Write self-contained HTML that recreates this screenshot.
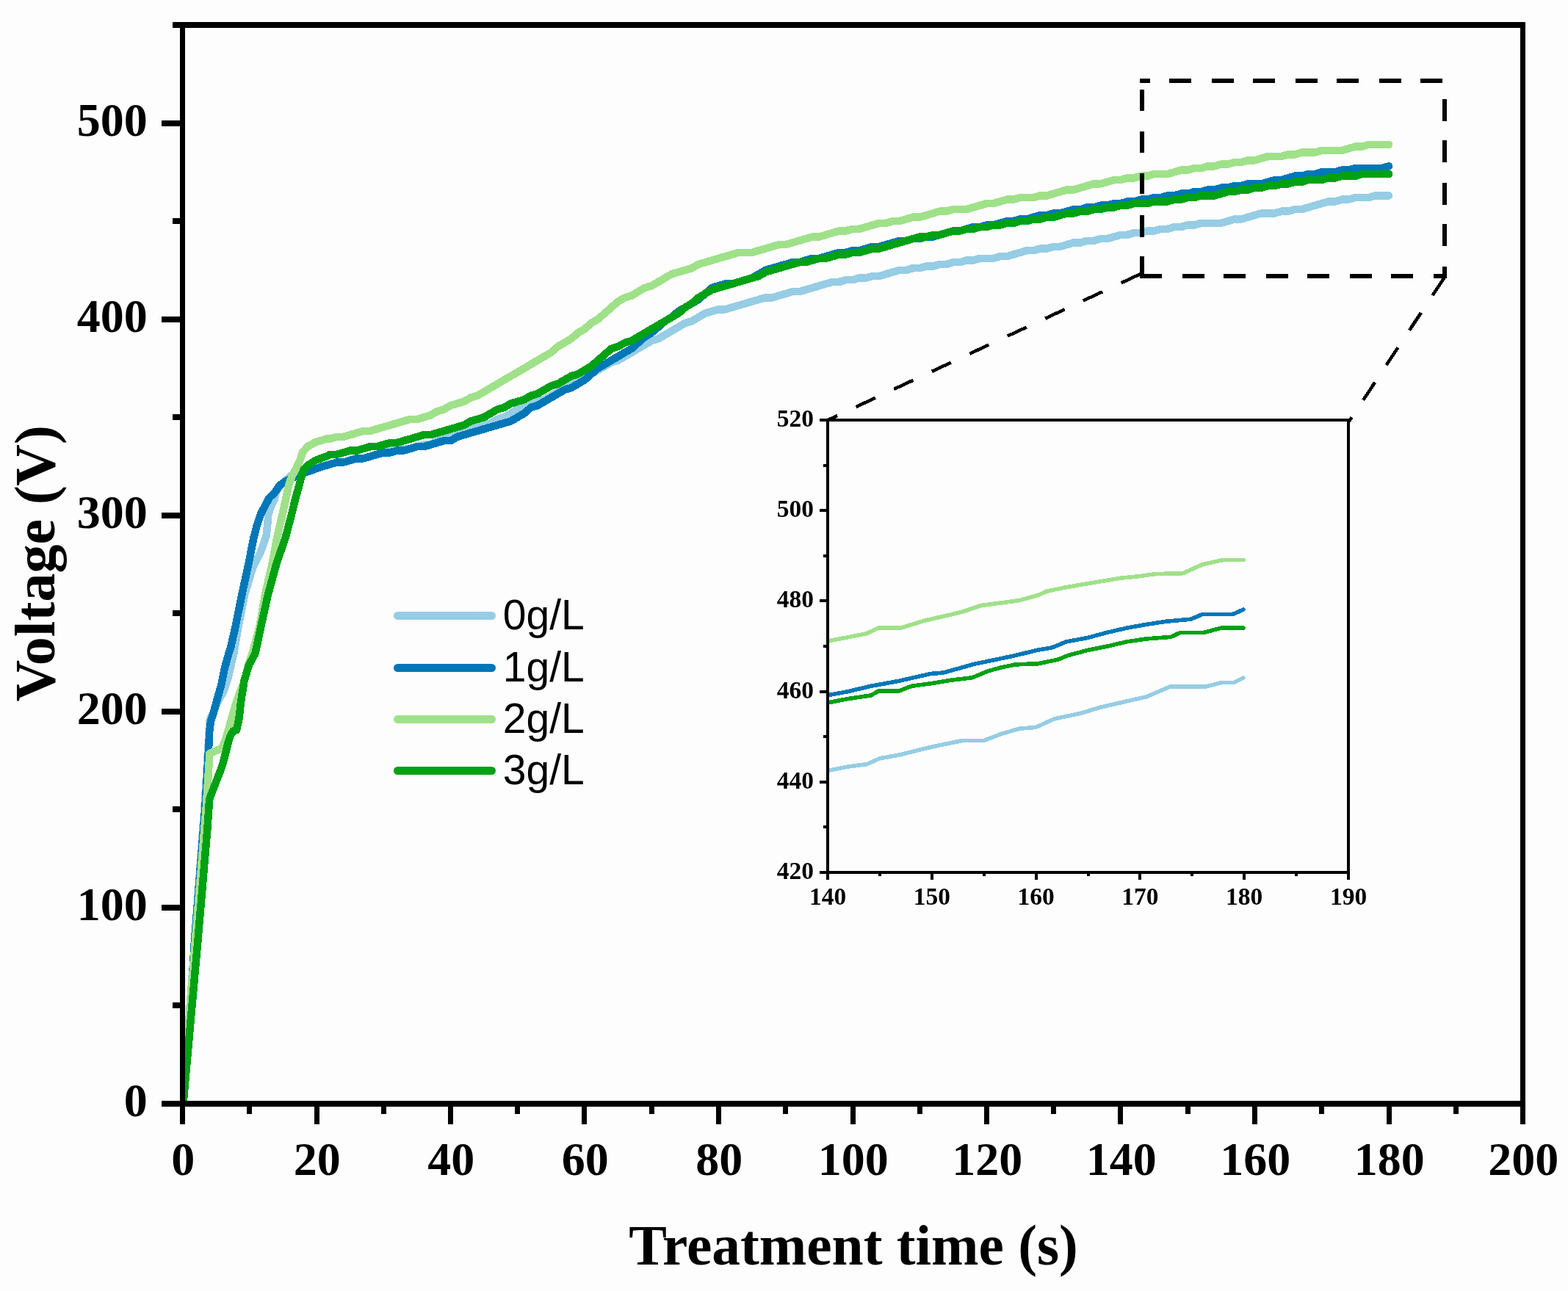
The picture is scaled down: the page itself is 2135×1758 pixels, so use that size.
<!DOCTYPE html><html><head><meta charset="utf-8"><title>Voltage vs Treatment time</title>
<style>html,body{margin:0;padding:0;background:#fdfdfd;}svg{display:block;}text{font-family:"Liberation Serif","Times New Roman",serif;font-weight:bold;fill:#000;}.lg{font-family:"Liberation Sans",Arial,sans-serif;font-weight:normal;}</style></head><body>
<svg width="2135" height="1758" viewBox="0 0 2135 1758">
<rect x="0" y="0" width="2135" height="1758" fill="#fdfdfd"/>
<defs><clipPath id="cm"><rect x="248.5" y="34" width="1825" height="1469"/></clipPath><clipPath id="ci"><rect x="1127" y="572" width="709" height="616"/></clipPath></defs>
<g fill="none" stroke-width="10.5" stroke-linejoin="round" stroke-linecap="round" shape-rendering="crispEdges" clip-path="url(#cm)">
<polyline stroke="#96cde4" points="249.0,1503.0 265.3,1280.0 278.4,1100.0 285.8,980.0 298.1,952.6 304.3,942.2 311.0,921.5 315.7,900.7 318.4,890.0 324.5,853.2 333.2,809.5 344.1,773.2 355.0,751.3 362.7,729.4 364.5,711.0 365.4,700.6 368.9,689.1 373.5,680.5 376.0,670.0 382.0,661.0 388.0,655.0 396.0,648.0 408.0,645.0 422.4,641.0 437.3,635.5 449.2,632.3 458.4,629.6 467.5,629.6 476.6,626.9 485.8,624.3 494.9,624.3 504.0,621.6 513.1,618.9 522.2,616.3 531.4,613.6 540.5,613.6 549.6,610.9 558.8,610.9 567.9,608.2 577.0,605.6 586.1,605.6 595.2,600.2 604.4,597.6 613.5,594.9 622.6,589.5 631.8,586.9 640.9,584.2 650.0,581.5 659.1,578.9 668.2,576.2 677.4,570.9 686.5,568.2 695.6,562.8 704.8,557.5 713.9,554.8 723.0,549.5 732.1,546.8 741.2,544.1 750.4,538.8 759.5,533.5 768.6,528.1 777.8,522.8 786.9,517.4 796.0,512.1 805.1,509.4 814.2,504.1 823.4,498.7 832.5,493.4 841.6,490.7 850.8,485.4 859.9,480.0 869.0,474.7 878.1,469.4 887.2,464.0 896.4,461.3 905.5,456.0 914.6,450.7 923.8,445.3 932.9,440.0 942.0,437.3 951.1,432.0 960.2,426.6 969.4,424.0 978.5,421.3 987.6,421.3 996.8,418.6 1005.9,415.9 1015.0,413.3 1024.1,410.6 1033.2,407.9 1042.4,405.3 1051.5,405.3 1060.6,402.6 1069.8,399.9 1078.9,397.2 1088.0,397.2 1097.1,394.6 1106.2,391.9 1115.4,389.2 1124.5,386.6 1133.6,383.9 1142.8,383.9 1151.9,381.2 1161.0,381.2 1170.1,378.5 1179.2,378.5 1188.4,375.9 1197.5,375.9 1206.6,373.2 1215.8,370.5 1224.9,367.9 1234.0,367.9 1243.1,365.2 1252.2,365.2 1261.4,362.5 1270.5,362.5 1279.6,359.9 1288.8,359.9 1297.9,357.2 1307.0,357.2 1316.1,354.5 1325.2,354.5 1334.4,351.8 1343.5,351.8 1352.6,351.8 1361.8,349.2 1370.9,349.2 1380.0,346.5 1389.1,343.8 1398.2,341.2 1407.4,341.2 1416.5,338.5 1425.6,338.5 1434.8,335.8 1443.9,335.8 1453.0,333.1 1462.1,330.5 1471.2,330.5 1480.4,327.8 1489.5,327.8 1498.6,325.1 1507.8,325.1 1516.9,322.5 1526.0,319.8 1535.1,319.8 1544.2,317.1 1553.4,317.1 1562.5,314.4 1571.6,314.4 1580.8,311.8 1589.9,311.8 1599.0,309.1 1608.1,309.1 1617.2,306.4 1626.4,306.4 1635.5,303.8 1644.6,303.8 1653.8,303.8 1662.9,303.8 1672.0,301.1 1681.1,298.4 1690.2,298.4 1699.4,295.7 1708.5,293.1 1717.6,290.4 1726.8,290.4 1735.9,290.4 1745.0,287.7 1754.1,287.7 1763.2,285.1 1772.4,285.1 1781.5,282.4 1790.6,279.7 1799.8,277.1 1808.9,274.4 1818.0,274.4 1827.1,271.7 1836.2,271.7 1845.4,269.0 1854.5,269.0 1863.6,269.0 1872.8,266.4 1881.9,266.4 1891.0,266.4"/>
<polyline stroke="#0277b8" points="249.0,1503.0 258.8,1386.0 265.0,1280.0 279.3,1100.0 283.9,1023.0 285.3,995.0 287.2,981.5 290.0,973.4 295.5,953.0 301.5,931.9 305.6,911.0 309.8,895.6 314.5,880.0 320.6,853.2 329.4,809.5 338.9,765.7 345.3,732.8 350.0,715.0 354.8,700.6 360.6,689.1 366.9,677.6 373.8,671.0 381.3,660.3 388.0,656.0 395.0,652.5 408.0,646.0 422.4,641.3 437.3,635.7 449.2,632.3 458.4,629.6 467.5,629.6 476.6,626.9 485.8,624.3 494.9,624.3 504.0,621.6 513.1,618.9 522.2,616.3 531.4,616.3 540.5,613.6 549.6,613.6 558.8,610.9 567.9,608.2 577.0,608.2 586.1,605.6 595.2,602.9 604.4,600.2 613.5,600.2 622.6,594.9 631.8,592.2 640.9,589.5 650.0,586.9 659.1,584.2 668.2,581.5 677.4,578.9 686.5,576.2 695.6,573.5 704.8,568.2 713.9,562.8 723.0,554.8 732.1,552.2 741.2,546.8 750.4,541.5 759.5,536.1 768.6,530.8 777.8,528.1 786.9,522.8 796.0,517.4 805.1,509.4 814.2,501.4 823.4,496.1 832.5,490.7 841.6,485.4 850.8,480.0 859.9,474.7 869.0,466.7 878.1,458.7 887.2,453.3 896.4,445.3 905.5,437.3 914.6,432.0 923.8,424.0 932.9,418.6 942.0,413.3 951.1,407.9 960.2,399.9 969.4,391.9 978.5,389.2 987.6,386.6 996.8,386.6 1005.9,383.9 1015.0,381.2 1024.1,378.5 1033.2,373.2 1042.4,367.9 1051.5,365.2 1060.6,362.5 1069.8,359.9 1078.9,357.2 1088.0,357.2 1097.1,354.5 1106.2,351.8 1115.4,351.8 1124.5,349.2 1133.6,346.5 1142.8,343.8 1151.9,343.8 1161.0,341.2 1170.1,341.2 1179.2,338.5 1188.4,335.8 1197.5,335.8 1206.6,333.1 1215.8,330.5 1224.9,327.8 1234.0,327.8 1243.1,325.1 1252.2,325.1 1261.4,322.5 1270.5,322.5 1279.6,319.8 1288.8,317.1 1297.9,314.4 1307.0,314.4 1316.1,311.8 1325.2,309.1 1334.4,309.1 1343.5,306.4 1352.6,306.4 1361.8,303.8 1370.9,301.1 1380.0,301.1 1389.1,298.4 1398.2,298.4 1407.4,295.7 1416.5,293.1 1425.6,293.1 1434.8,290.4 1443.9,290.4 1453.0,287.7 1462.1,285.1 1471.2,285.1 1480.4,282.4 1489.5,282.4 1498.6,279.7 1507.8,279.7 1516.9,277.1 1526.0,277.1 1535.1,274.4 1544.2,274.4 1553.4,271.7 1562.5,271.7 1571.6,269.0 1580.8,269.0 1589.9,266.4 1599.0,266.4 1608.1,263.7 1617.2,263.7 1626.4,261.0 1635.5,261.0 1644.6,258.4 1653.8,258.4 1662.9,255.7 1672.0,255.7 1681.1,253.0 1690.2,253.0 1699.4,250.3 1708.5,250.3 1717.6,250.3 1726.8,247.7 1735.9,245.0 1745.0,245.0 1754.1,242.3 1763.2,239.7 1772.4,239.7 1781.5,237.0 1790.6,237.0 1799.8,234.3 1808.9,234.3 1818.0,234.3 1827.1,231.6 1836.2,231.6 1845.4,229.0 1854.5,229.0 1863.6,229.0 1872.8,229.0 1881.9,229.0 1891.0,226.3"/>
<polyline stroke="#9fe189" points="249.0,1503.0 266.0,1280.0 280.7,1100.0 285.5,1026.0 295.0,1022.0 302.0,1019.0 306.0,1010.0 310.7,995.3 315.7,976.9 321.5,957.8 326.7,942.2 332.9,926.7 338.1,906.0 343.5,890.0 353.5,853.2 361.1,809.5 371.0,765.7 377.0,732.8 384.5,700.6 389.6,677.6 393.2,660.3 397.4,648.8 403.5,637.3 408.7,625.8 411.9,616.2 418.6,608.3 429.8,602.1 444.8,597.5 449.2,597.6 458.4,594.9 467.5,594.9 476.6,592.2 485.8,589.5 494.9,586.9 504.0,586.9 513.1,584.2 522.2,581.5 531.4,578.9 540.5,576.2 549.6,573.5 558.8,570.9 567.9,570.9 577.0,568.2 586.1,565.5 595.2,560.2 604.4,557.5 613.5,552.2 622.6,549.5 631.8,546.8 640.9,541.5 650.0,538.8 659.1,533.5 668.2,528.1 677.4,522.8 686.5,517.4 695.6,512.1 704.8,506.8 713.9,501.4 723.0,496.1 732.1,490.7 741.2,485.4 750.4,480.0 759.5,472.0 768.6,466.7 777.8,461.3 786.9,453.3 796.0,448.0 805.1,440.0 814.2,434.6 823.4,426.6 832.5,418.6 841.6,410.6 850.8,405.3 859.9,402.6 869.0,397.2 878.1,391.9 887.2,389.2 896.4,383.9 905.5,378.5 914.6,373.2 923.8,370.5 932.9,367.9 942.0,365.2 951.1,359.9 960.2,357.2 969.4,354.5 978.5,351.8 987.6,349.2 996.8,346.5 1005.9,343.8 1015.0,343.8 1024.1,343.8 1033.2,341.2 1042.4,338.5 1051.5,335.8 1060.6,333.1 1069.8,333.1 1078.9,330.5 1088.0,327.8 1097.1,325.1 1106.2,322.5 1115.4,322.5 1124.5,319.8 1133.6,317.1 1142.8,314.4 1151.9,314.4 1161.0,311.8 1170.1,311.8 1179.2,309.1 1188.4,306.4 1197.5,303.8 1206.6,303.8 1215.8,301.1 1224.9,301.1 1234.0,298.4 1243.1,295.7 1252.2,295.7 1261.4,293.1 1270.5,290.4 1279.6,287.7 1288.8,287.7 1297.9,285.1 1307.0,285.1 1316.1,285.1 1325.2,282.4 1334.4,279.7 1343.5,277.1 1352.6,277.1 1361.8,274.4 1370.9,271.7 1380.0,271.7 1389.1,269.0 1398.2,269.0 1407.4,269.0 1416.5,266.4 1425.6,266.4 1434.8,263.7 1443.9,261.0 1453.0,258.4 1462.1,258.4 1471.2,255.7 1480.4,253.0 1489.5,250.3 1498.6,250.3 1507.8,247.7 1516.9,245.0 1526.0,245.0 1535.1,242.3 1544.2,242.3 1553.4,239.7 1562.5,239.7 1571.6,237.0 1580.8,237.0 1589.9,237.0 1599.0,234.3 1608.1,231.6 1617.2,231.6 1626.4,229.0 1635.5,229.0 1644.6,226.3 1653.8,226.3 1662.9,223.6 1672.0,223.6 1681.1,221.0 1690.2,221.0 1699.4,218.3 1708.5,218.3 1717.6,215.6 1726.8,213.0 1735.9,213.0 1745.0,213.0 1754.1,210.3 1763.2,210.3 1772.4,207.6 1781.5,207.6 1790.6,207.6 1799.8,204.9 1808.9,204.9 1818.0,204.9 1827.1,204.9 1836.2,202.3 1845.4,199.6 1854.5,199.6 1863.6,196.9 1872.8,196.9 1881.9,196.9 1891.0,196.9"/>
<polyline stroke="#02a114" points="249.5,1503.0 269.5,1280.0 282.3,1130.0 285.2,1088.0 301.8,1045.0 305.2,1033.4 307.8,1023.0 311.2,1009.2 313.6,1002.3 317.5,995.4 322.2,994.0 325.4,978.5 328.5,952.6 332.6,926.7 338.8,906.0 347.5,890.0 355.3,853.2 365.0,809.5 377.0,765.7 388.5,732.8 396.9,701.0 402.6,677.6 406.3,664.9 410.5,649.0 413.5,639.5 419.9,633.2 429.8,626.7 444.8,621.4 449.2,618.9 458.4,618.9 467.5,616.3 476.6,613.6 485.8,613.6 494.9,610.9 504.0,608.2 513.1,608.2 522.2,605.6 531.4,602.9 540.5,602.9 549.6,600.2 558.8,597.6 567.9,594.9 577.0,592.2 586.1,592.2 595.2,589.5 604.4,586.9 613.5,584.2 622.6,581.5 631.8,578.9 640.9,573.5 650.0,570.9 659.1,568.2 668.2,562.8 677.4,557.5 686.5,554.8 695.6,549.5 704.8,546.8 713.9,544.1 723.0,538.8 732.1,536.1 741.2,530.8 750.4,525.4 759.5,522.8 768.6,517.4 777.8,512.1 786.9,509.4 796.0,504.1 805.1,498.7 814.2,490.7 823.4,482.7 832.5,474.7 841.6,472.0 850.8,466.7 859.9,464.0 869.0,458.7 878.1,453.3 887.2,448.0 896.4,442.6 905.5,437.3 914.6,432.0 923.8,426.6 932.9,418.6 942.0,413.3 951.1,405.3 960.2,399.9 969.4,394.6 978.5,391.9 987.6,389.2 996.8,386.6 1005.9,383.9 1015.0,381.2 1024.1,378.5 1033.2,375.9 1042.4,370.5 1051.5,367.9 1060.6,365.2 1069.8,362.5 1078.9,359.9 1088.0,357.2 1097.1,357.2 1106.2,354.5 1115.4,351.8 1124.5,351.8 1133.6,349.2 1142.8,346.5 1151.9,346.5 1161.0,343.8 1170.1,343.8 1179.2,341.2 1188.4,338.5 1197.5,338.5 1206.6,335.8 1215.8,333.1 1224.9,330.5 1234.0,327.8 1243.1,325.1 1252.2,322.5 1261.4,322.5 1270.5,319.8 1279.6,319.8 1288.8,317.1 1297.9,314.4 1307.0,314.4 1316.1,311.8 1325.2,311.8 1334.4,309.1 1343.5,309.1 1352.6,306.4 1361.8,306.4 1370.9,303.8 1380.0,303.8 1389.1,301.1 1398.2,301.1 1407.4,298.4 1416.5,298.4 1425.6,295.7 1434.8,295.7 1443.9,293.1 1453.0,290.4 1462.1,290.4 1471.2,287.7 1480.4,287.7 1489.5,285.1 1498.6,285.1 1507.8,282.4 1516.9,282.4 1526.0,279.7 1535.1,279.7 1544.2,277.1 1553.4,277.1 1562.5,277.1 1571.6,274.4 1580.8,274.4 1589.9,274.4 1599.0,271.7 1608.1,271.7 1617.2,269.0 1626.4,269.0 1635.5,266.4 1644.6,266.4 1653.8,266.4 1662.9,263.7 1672.0,261.0 1681.1,261.0 1690.2,258.4 1699.4,258.4 1708.5,255.7 1717.6,255.7 1726.8,253.0 1735.9,253.0 1745.0,250.3 1754.1,250.3 1763.2,247.7 1772.4,247.7 1781.5,245.0 1790.6,245.0 1799.8,245.0 1808.9,242.3 1818.0,242.3 1827.1,239.7 1836.2,239.7 1845.4,239.7 1854.5,237.0 1863.6,237.0 1872.8,237.0 1881.9,237.0 1891.0,237.0"/>
</g>
<g fill="#000" shape-rendering="crispEdges">
<rect x="245" y="30" width="7" height="1477"/>
<rect x="2070" y="30" width="7" height="1477"/>
<rect x="245" y="30" width="1832" height="8"/>
<rect x="245" y="1499" width="1832" height="8"/>
<rect x="245" y="1507" width="7" height="24"/>
<rect x="336" y="1507" width="7" height="10"/>
<rect x="428" y="1507" width="7" height="24"/>
<rect x="519" y="1507" width="7" height="10"/>
<rect x="610" y="1507" width="7" height="24"/>
<rect x="701" y="1507" width="7" height="10"/>
<rect x="792" y="1507" width="7" height="24"/>
<rect x="884" y="1507" width="7" height="10"/>
<rect x="975" y="1507" width="7" height="24"/>
<rect x="1066" y="1507" width="7" height="10"/>
<rect x="1158" y="1507" width="7" height="24"/>
<rect x="1249" y="1507" width="7" height="10"/>
<rect x="1340" y="1507" width="7" height="24"/>
<rect x="1431" y="1507" width="7" height="10"/>
<rect x="1522" y="1507" width="7" height="24"/>
<rect x="1614" y="1507" width="7" height="10"/>
<rect x="1705" y="1507" width="7" height="24"/>
<rect x="1796" y="1507" width="7" height="10"/>
<rect x="1888" y="1507" width="7" height="24"/>
<rect x="1979" y="1507" width="7" height="10"/>
<rect x="2070" y="1507" width="7" height="24"/>
<rect x="220" y="1499" width="25" height="8"/>
<rect x="235" y="1365" width="10" height="8"/>
<rect x="220" y="1232" width="25" height="8"/>
<rect x="235" y="1098" width="10" height="8"/>
<rect x="220" y="965" width="25" height="8"/>
<rect x="235" y="831" width="10" height="8"/>
<rect x="220" y="698" width="25" height="8"/>
<rect x="235" y="564" width="10" height="8"/>
<rect x="220" y="431" width="25" height="8"/>
<rect x="235" y="297" width="10" height="8"/>
<rect x="220" y="164" width="25" height="8"/>
<rect x="235" y="30" width="10" height="8"/>
</g>
<text x="249.2" y="1599.7" font-size="64" text-anchor="middle">0</text>
<text x="431.7" y="1599.7" font-size="64" text-anchor="middle">20</text>
<text x="614.2" y="1599.7" font-size="64" text-anchor="middle">40</text>
<text x="796.7" y="1599.7" font-size="64" text-anchor="middle">60</text>
<text x="979.2" y="1599.7" font-size="64" text-anchor="middle">80</text>
<text x="1161.7" y="1599.7" font-size="64" text-anchor="middle">100</text>
<text x="1344.2" y="1599.7" font-size="64" text-anchor="middle">120</text>
<text x="1526.7" y="1599.7" font-size="64" text-anchor="middle">140</text>
<text x="1709.2" y="1599.7" font-size="64" text-anchor="middle">160</text>
<text x="1891.7" y="1599.7" font-size="64" text-anchor="middle">180</text>
<text x="2074.2" y="1599.7" font-size="64" text-anchor="middle">200</text>
<text x="200.7" y="1520.3" font-size="64" text-anchor="end">0</text>
<text x="200.7" y="1253.2" font-size="64" text-anchor="end">100</text>
<text x="200.7" y="986.1" font-size="64" text-anchor="end">200</text>
<text x="200.7" y="719.0" font-size="64" text-anchor="end">300</text>
<text x="200.7" y="451.9" font-size="64" text-anchor="end">400</text>
<text x="200.7" y="184.8" font-size="64" text-anchor="end">500</text>
<text x="1162" y="1721.5" font-size="77.4" text-anchor="middle">Treatment time (s)</text>
<text transform="translate(74 767.2) rotate(-90)" x="0" y="0" font-size="78" text-anchor="middle">Voltage (V)</text>
<line x1="541.5" y1="838.5" x2="669.5" y2="838.5" stroke="#96cde4" stroke-width="11" stroke-linecap="round"/>
<text class="lg" x="684.8" y="857.3" font-size="57">0g/L</text>
<line x1="541.5" y1="909.5" x2="669.5" y2="909.5" stroke="#0277b8" stroke-width="11" stroke-linecap="round"/>
<text class="lg" x="684.8" y="928.3" font-size="57">1g/L</text>
<line x1="541.5" y1="979.5" x2="669.5" y2="979.5" stroke="#9fe189" stroke-width="11" stroke-linecap="round"/>
<text class="lg" x="684.8" y="998.3" font-size="57">2g/L</text>
<line x1="541.5" y1="1049.5" x2="669.5" y2="1049.5" stroke="#02a114" stroke-width="11" stroke-linecap="round"/>
<text class="lg" x="684.8" y="1068.3" font-size="57">3g/L</text>
<g fill="#000" shape-rendering="crispEdges">
<rect x="1552" y="107.0" width="14.0" height="6.0"/>
<rect x="1592" y="107.0" width="30.0" height="6.0"/>
<rect x="1650" y="107.0" width="30.0" height="6.0"/>
<rect x="1706.3" y="107.0" width="29.6" height="6.0"/>
<rect x="1764.2" y="107.0" width="29.5" height="6.0"/>
<rect x="1820.1" y="107.0" width="29.7" height="6.0"/>
<rect x="1878" y="107.0" width="29.8" height="6.0"/>
<rect x="1934" y="107.0" width="29.8" height="6.0"/>
<rect x="1552" y="373.0" width="29.9" height="6.0"/>
<rect x="1610" y="373.0" width="30.0" height="6.0"/>
<rect x="1665.8" y="373.0" width="30.2" height="6.0"/>
<rect x="1723.9" y="373.0" width="30.1" height="6.0"/>
<rect x="1780.1" y="373.0" width="29.6" height="6.0"/>
<rect x="1838.1" y="373.0" width="29.6" height="6.0"/>
<rect x="1894.1" y="373.0" width="29.6" height="6.0"/>
<rect x="1952" y="373.0" width="18.0" height="6.0"/>
<rect x="1552.0" y="121.9" width="6.0" height="28.9"/>
<rect x="1552.0" y="178.6" width="6.0" height="29.2"/>
<rect x="1552.0" y="235.5" width="6.0" height="28.7"/>
<rect x="1552.0" y="293.1" width="6.0" height="29.9"/>
<rect x="1552.0" y="348.9" width="6.0" height="30.0"/>
<rect x="1964.0" y="134.7" width="6.0" height="30.1"/>
<rect x="1964.0" y="191" width="6.0" height="29.6"/>
<rect x="1964.0" y="249" width="6.0" height="29.8"/>
<rect x="1964.0" y="305" width="6.0" height="29.7"/>
<rect x="1964.0" y="363.1" width="6.0" height="15.8"/>
</g>
<g stroke="#000" stroke-width="4.5" fill="none" shape-rendering="crispEdges">
<line x1="1553.4" y1="372.8" x2="1126.4" y2="572.4" stroke-dasharray="28.8 28.1" stroke-dashoffset="-0.9"/>
<line x1="1966.6" y1="378" x2="1835.9" y2="575.3" stroke-dasharray="28.6 28.3" stroke-dashoffset="-0.6"/>
</g>
<rect x="1127.0" y="572.0" width="709.0" height="616.0" fill="#fdfdfd"/>
<g fill="none" stroke-width="5.6" stroke-linejoin="round" stroke-linecap="round" shape-rendering="crispEdges" clip-path="url(#ci)">
<polyline stroke="#96cde4" points="1126.7,1049.6 1154.6,1044.0 1180.5,1040.6 1197.8,1032.8 1223.7,1028.1 1258.2,1019.5 1284.2,1013.8 1310.1,1008.6 1339.5,1008.6 1361.9,999.9 1387.9,992.2 1410.3,990.4 1435.7,978.9 1471.4,971.3 1498.2,963.2 1525.0,957.0 1560.7,948.9 1592.9,935.2 1641.1,935.2 1664.3,929.3 1680.4,929.3 1692.9,923.0"/>
<polyline stroke="#0277b8" points="1126.7,946.8 1154.6,941.7 1185.7,934.3 1223.7,927.4 1266.9,917.5 1284.2,916.1 1310.1,908.9 1327.4,904.0 1353.3,898.8 1379.2,893.3 1413.8,885.0 1432.1,882.0 1451.8,873.9 1480.4,868.6 1507.1,861.4 1533.9,855.2 1560.7,850.4 1587.5,846.3 1621.4,843.2 1637.5,836.4 1678.6,836.4 1692.9,830.2"/>
<polyline stroke="#9fe189" points="1126.7,873.0 1154.6,867.8 1180.5,862.6 1196.0,855.0 1227.1,855.0 1258.2,845.3 1284.2,839.4 1310.1,833.2 1336.0,824.5 1361.9,821.1 1387.9,817.6 1413.8,810.4 1425.0,805.2 1448.2,800.4 1471.4,796.3 1498.2,791.8 1525.0,787.3 1551.8,784.6 1573.2,781.6 1610.7,780.7 1637.5,768.6 1666.1,762.3 1692.9,762.3"/>
<polyline stroke="#02a114" points="1126.7,957.0 1154.6,951.6 1185.7,946.9 1196.0,941.2 1223.7,941.2 1241.0,934.3 1266.9,930.8 1292.8,926.5 1323.9,922.7 1344.7,914.1 1361.9,909.2 1382.7,904.9 1413.8,903.7 1441.1,898.0 1453.6,892.7 1480.4,885.5 1507.1,880.2 1533.9,873.9 1560.7,870.0 1594.6,867.3 1607.1,861.4 1639.3,861.4 1662.5,855.2 1692.9,855.2"/>
</g>
<g fill="#000" shape-rendering="crispEdges">
<rect x="1125" y="570" width="4" height="620"/>
<rect x="1834" y="570" width="4" height="620"/>
<rect x="1125" y="570" width="713" height="4"/>
<rect x="1125" y="1186" width="713" height="4"/>
<rect x="1125" y="1190" width="4" height="8"/>
<rect x="1196" y="1190" width="4" height="3"/>
<rect x="1267" y="1190" width="4" height="8"/>
<rect x="1338" y="1190" width="4" height="3"/>
<rect x="1409" y="1190" width="4" height="8"/>
<rect x="1480" y="1190" width="4" height="3"/>
<rect x="1550" y="1190" width="4" height="8"/>
<rect x="1621" y="1190" width="4" height="3"/>
<rect x="1692" y="1190" width="4" height="8"/>
<rect x="1763" y="1190" width="4" height="3"/>
<rect x="1834" y="1190" width="4" height="8"/>
<rect x="1116" y="1186" width="9" height="4"/>
<rect x="1121" y="1124" width="4" height="4"/>
<rect x="1116" y="1063" width="9" height="4"/>
<rect x="1121" y="1001" width="4" height="4"/>
<rect x="1116" y="940" width="9" height="4"/>
<rect x="1121" y="878" width="4" height="4"/>
<rect x="1116" y="816" width="9" height="4"/>
<rect x="1121" y="755" width="4" height="4"/>
<rect x="1116" y="693" width="9" height="4"/>
<rect x="1121" y="632" width="4" height="4"/>
<rect x="1116" y="570" width="9" height="4"/>
</g>
<text x="1127.0" y="1231.5" font-size="33.5" text-anchor="middle">140</text>
<text x="1268.8" y="1231.5" font-size="33.5" text-anchor="middle">150</text>
<text x="1410.6" y="1231.5" font-size="33.5" text-anchor="middle">160</text>
<text x="1552.4" y="1231.5" font-size="33.5" text-anchor="middle">170</text>
<text x="1694.2" y="1231.5" font-size="33.5" text-anchor="middle">180</text>
<text x="1836.0" y="1231.5" font-size="33.5" text-anchor="middle">190</text>
<text x="1108.1" y="1197.0" font-size="33.5" text-anchor="end">420</text>
<text x="1108.1" y="1073.8" font-size="33.5" text-anchor="end">440</text>
<text x="1108.1" y="950.6" font-size="33.5" text-anchor="end">460</text>
<text x="1108.1" y="827.4" font-size="33.5" text-anchor="end">480</text>
<text x="1108.1" y="704.2" font-size="33.5" text-anchor="end">500</text>
<text x="1108.1" y="581.0" font-size="33.5" text-anchor="end">520</text>
</svg></body></html>
